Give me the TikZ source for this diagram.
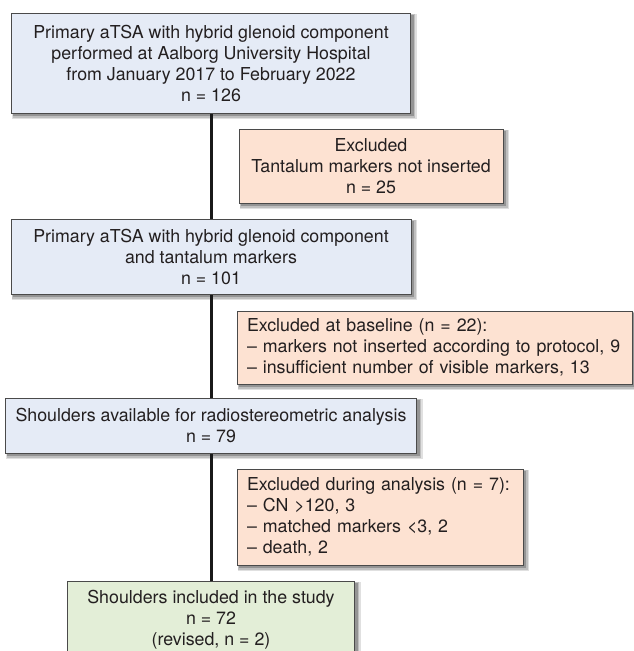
\documentclass[tikz,border=0pt]{standalone}
\usepackage{fontspec}
\setmainfont{TeX Gyre Heros}
\usetikzlibrary{backgrounds}
\definecolor{bluefill}{HTML}{E5EBF6}
\definecolor{orangefill}{HTML}{FDE2D2}
\definecolor{greenfill}{HTML}{E3EED7}
\definecolor{edgegray}{HTML}{4A4A4A}
\definecolor{textgray}{HTML}{231F20}
\tikzset{
  flowbox/.style={draw=edgegray, line width=0.9pt, text=textgray,
    inner xsep=10pt, inner ysep=0pt,
    font=\fontsize{17.8}{21}\selectfont},
  mainbox/.style={flowbox, fill=bluefill, align=center},
  exbox/.style={flowbox, fill=orangefill},
  finalbox/.style={flowbox, fill=greenfill, align=center},
  spine/.style={line width=3pt, draw=black!90}
}
\begin{document}
\begin{tikzpicture}[x=1pt,y=-1pt]
\clip (0,0) rectangle (634,651);
\node[mainbox, minimum width=399pt, minimum height=100pt] (b1) at (211,63)
  {Primary aTSA with hybrid glenoid component\\performed at Aalborg University Hospital\\from January 2017 to February 2022\\n = 126};
\node[exbox, align=center, minimum width=264pt, minimum height=74pt] (b2) at (371,166)
  {Excluded\\Tantalum markers not inserted\\n = 25};
\node[mainbox, minimum width=400pt, minimum height=75pt] (b3) at (211,256.5)
  {Primary aTSA with hybrid glenoid component\\and tantalum markers\\n = 101};
\node[exbox, align=left, text width=375pt, minimum height=73pt] (b4) at (434.5,347.5)
  {Excluded at baseline (n = 22):\\-- markers not inserted according to protocol, 9\\-- insufficient number of visible markers, 13};
\node[mainbox, minimum width=400pt, minimum height=55pt] (b5) at (211,425.5)
  {Shoulders available for radiostereometric analysis\\n = 79};
\node[exbox, align=left, text width=266pt, minimum height=96pt] (b6) at (380,517)
  {Excluded during analysis (n = 7):\\-- CN >120, 3\\-- matched markers <3, 2\\-- death, 2};
\node[finalbox, minimum width=287pt, minimum height=78pt] (b7) at (211,620)
  {Shoulders included in the study\\n = 72\\(revised, n = 2)};
\begin{scope}[on background layer]
  \fill[white] (0,0) rectangle (634,651);
  \foreach \b in {b1,b2,b3,b4,b5,b6,b7}{
    \fill[black!12] ([shift={(1pt,-6pt)}]\b.south west) rectangle ([shift={(6pt,-1pt)}]\b.north east);
    \fill[black!25] ([shift={(1.5pt,-4.5pt)}]\b.south west) rectangle ([shift={(4.5pt,-1.5pt)}]\b.north east);
    \fill[black!42] ([shift={(2pt,-3pt)}]\b.south west) rectangle ([shift={(3pt,-2pt)}]\b.north east);
  }
  \draw[spine] (b1.south) -- (b7.north);
\end{scope}
\end{tikzpicture}
\end{document}
